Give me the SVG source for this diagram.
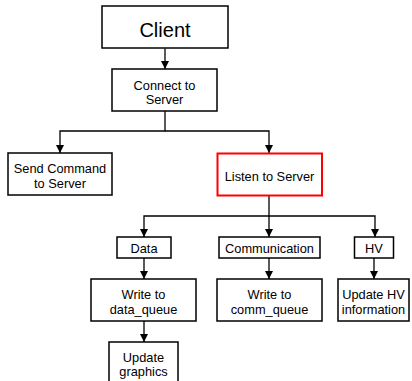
<svg xmlns="http://www.w3.org/2000/svg" width="412" height="381" viewBox="0 0 412 381">
<defs>
<style>
.box{fill:#fff;stroke:#000;stroke-width:1.5}
.red{fill:#fff;stroke:#f00;stroke-width:2}
text{font-family:"Liberation Sans",Arial,sans-serif;font-size:12.8px;fill:#000;text-anchor:middle}
.big{font-size:20px}
.ln{fill:none;stroke:#000;stroke-width:1.3}
</style>
<marker id="ah" markerWidth="10" markerHeight="10" refX="8" refY="4" orient="auto" markerUnits="userSpaceOnUse">
<path d="M0,0 L8,4 L0,8 Z" fill="#000"/>
</marker>
</defs>
<rect width="412" height="381" fill="#fff"/>
<g id="connectors">
<path class="ln" d="M165,48.5 V69" marker-end="url(#ah)"/>
<path class="ln" d="M165,111 V131 H60 V153" marker-end="url(#ah)"/>
<path class="ln" d="M165,131 H269 V153" marker-end="url(#ah)"/>
<path class="ln" d="M269,196 V216 H144 V237" marker-end="url(#ah)"/>
<path class="ln" d="M269,216 V237" marker-end="url(#ah)"/>
<path class="ln" d="M269,216 H375 V237" marker-end="url(#ah)"/>
<path class="ln" d="M144,258 V279" marker-end="url(#ah)"/>
<path class="ln" d="M269,258 V279" marker-end="url(#ah)"/>
<path class="ln" d="M374,258 V279" marker-end="url(#ah)"/>
<path class="ln" d="M144,321 V342" marker-end="url(#ah)"/>
</g>
<g id="client">
<rect class="box" x="102" y="6" width="126" height="42"/>
<text class="big" x="165" y="36.5">Client</text>
</g>
<g id="connect">
<rect class="box" x="112" y="69" width="105" height="42"/>
<text x="164.5" y="89.5">Connect to</text>
<text x="164.5" y="104">Server</text>
</g>
<g id="send">
<rect class="box" x="8" y="153" width="104" height="42"/>
<text x="60" y="173.3">Send Command</text>
<text x="60" y="188.3">to Server</text>
</g>
<g id="listen">
<rect class="red" x="217.5" y="153.5" width="104.5" height="42"/>
<text x="269.5" y="181">Listen to Server</text>
</g>
<g id="data">
<rect class="box" x="117" y="237" width="54" height="21"/>
<text x="144" y="253">Data</text>
</g>
<g id="communication">
<rect class="box" x="219" y="237" width="101" height="21"/>
<text x="269.5" y="253">Communication</text>
</g>
<g id="hv">
<rect class="box" x="354.5" y="237" width="39" height="21"/>
<text x="374" y="253">HV</text>
</g>
<g id="write-data">
<rect class="box" x="91" y="279" width="105" height="42"/>
<text x="143.5" y="299">Write to</text>
<text x="143.5" y="314.3">data_queue</text>
</g>
<g id="write-comm">
<rect class="box" x="217" y="279" width="105" height="42"/>
<text x="269.5" y="299">Write to</text>
<text x="269.5" y="314.3">comm_queue</text>
</g>
<g id="update-hv">
<rect class="box" x="338" y="279" width="71" height="42"/>
<text x="373.5" y="299">Update HV</text>
<text x="373.5" y="314.3">information</text>
</g>
<g id="update-graphics">
<rect class="box" x="109" y="342" width="69" height="42"/>
<text x="143.5" y="361.7">Update</text>
<text x="143.5" y="375.5">graphics</text>
</g>
</svg>
